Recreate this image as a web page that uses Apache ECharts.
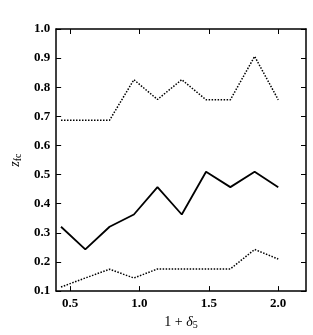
<!DOCTYPE html>
<html><head><meta charset="utf-8">
<script src="https://cdn.jsdelivr.net/npm/echarts@6/dist/echarts.min.js"></script>
<style>html,body{margin:0;padding:0;background:#fff}#c{width:313px;height:335px}</style>
</head><body><div id="c"></div>
<script>
const xValues = [0.435, 0.61, 0.785, 0.96, 1.13, 1.305, 1.48, 1.655, 1.83, 2.0];
const upperValues = [0.687, 0.687, 0.687, 0.826, 0.758, 0.826, 0.757, 0.757, 0.906, 0.757];
const medianValues = [0.321, 0.243, 0.321, 0.363, 0.457, 0.363, 0.510, 0.457, 0.510, 0.457];
const lowerValues = [0.114, 0.145, 0.175, 0.145, 0.176, 0.176, 0.176, 0.176, 0.243, 0.210];
const xTicks = [0.5, 1.0, 1.5, 2.0];

const pair = v => xValues.map((x, i) => [x, v[i]]);
const font = 'Liberation Serif';
const chart = echarts.init(document.getElementById('c'));
const axLine = {show: true, lineStyle: {color: '#000', width: 1.5}};
chart.setOption({
  animation: false,
  grid: {left: 43, right: 7, top: 29, bottom: 34},
  xAxis: [{
    type: 'value', min: 0.4, max: 2.2, position: 'bottom',
    axisLine: axLine,
    axisTick: {inside: true, length: 5, customValues: xTicks, lineStyle: {color: '#000'}},
    axisLabel: {customValues: xTicks, formatter: v => v.toFixed(1), color: '#000', fontFamily: font, fontWeight: 'bold', fontSize: 13, margin: 6},
    splitLine: {show: false},
    name: '{n|1 + }{i|δ}{s|5}', nameLocation: 'middle', nameGap: 20,
    nameTextStyle: {rich: {
      n: {fontFamily: font, fontSize: 14, color: '#000'},
      i: {fontFamily: font, fontStyle: 'italic', fontSize: 14, color: '#000'},
      s: {fontFamily: font, fontSize: 10, color: '#000', padding: [6, 0, 0, 0]}
    }}
  }, {
    type: 'value', min: 0.4, max: 2.2, position: 'top',
    axisLine: axLine,
    axisTick: {inside: true, length: 5, customValues: xTicks, lineStyle: {color: '#000'}},
    axisLabel: {show: false}, splitLine: {show: false}
  }],
  yAxis: [{
    type: 'value', min: 0.1, max: 1.0, interval: 0.1, position: 'left',
    axisLine: axLine,
    axisTick: {inside: true, length: 5, lineStyle: {color: '#000'}},
    axisLabel: {formatter: v => v.toFixed(1), color: '#000', fontFamily: font, fontWeight: 'bold', fontSize: 13, margin: 6},
    splitLine: {show: false},
    name: '{i|z}{s|fc}', nameLocation: 'middle', nameGap: 24, nameRotate: 90,
    nameTextStyle: {rich: {
      i: {fontFamily: font, fontStyle: 'italic', fontSize: 14, color: '#000'},
      s: {fontFamily: font, fontSize: 10, color: '#000', padding: [6, 0, 0, 0]}
    }}
  }, {
    type: 'value', min: 0.1, max: 1.0, interval: 0.1, position: 'right',
    axisLine: axLine,
    axisTick: {inside: true, length: 5, lineStyle: {color: '#000'}},
    axisLabel: {show: false}, splitLine: {show: false}
  }],
  series: [
    {type: 'line', data: pair(upperValues), symbol: 'none', lineStyle: {color: '#000', width: 1.5, type: [1.5, 1.5]}},
    {type: 'line', data: pair(medianValues), symbol: 'none', lineStyle: {color: '#000', width: 1.8}},
    {type: 'line', data: pair(lowerValues), symbol: 'none', lineStyle: {color: '#000', width: 1.5, type: [1.5, 1.5]}}
  ]
});
</script></body></html>
